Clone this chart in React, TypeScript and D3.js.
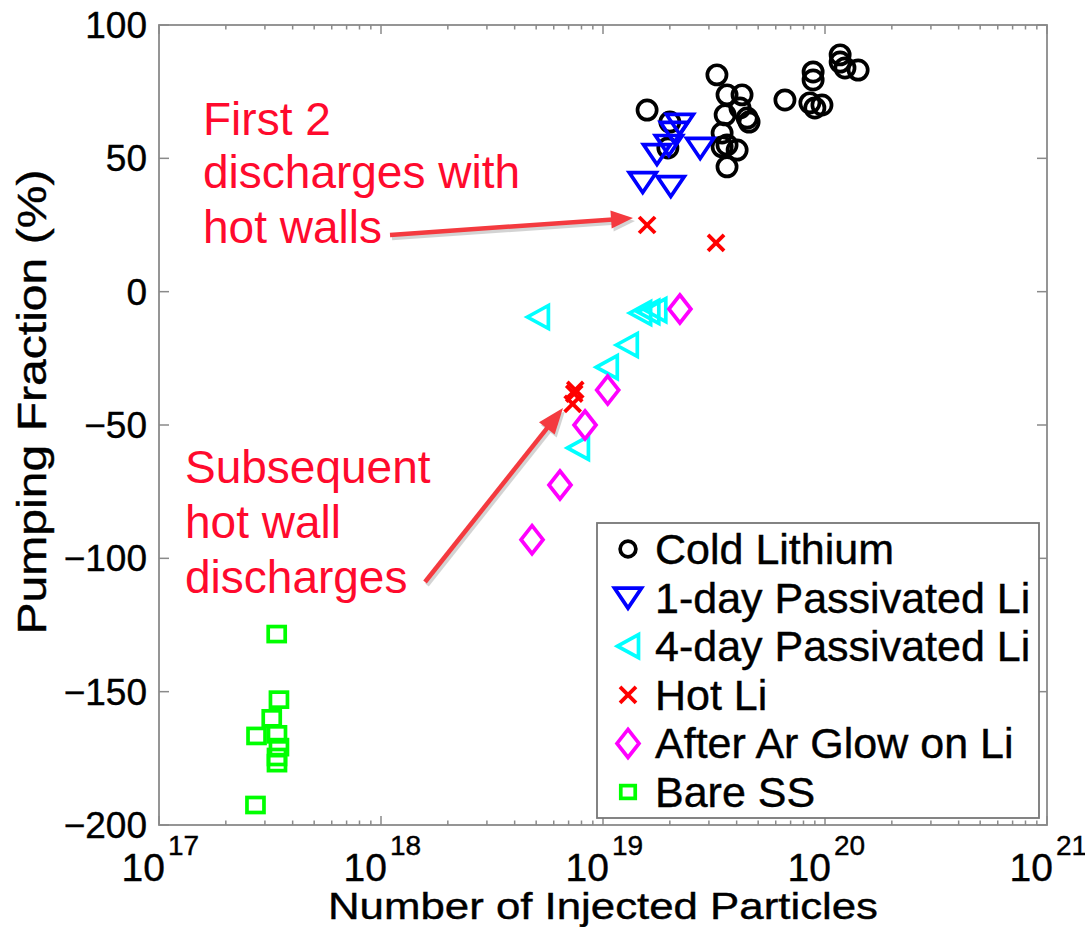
import React from "react";
import * as d3 from "d3";

// ---- Data ----
const coldX = [3.26e19, 3.62e19, 4.23e19, 4.14e19, 3.55e19, 4.46e19, 4.55e19, 3.44e19, 3.44e19, 3.62e19, 4.02e19, 3.62e19, 1.58e19, 2.0e19, 1.96e19, 6.6e19, 8.84e19, 8.84e19, 8.55e19, 9.0e19, 9.69e19, 1.17e20, 1.17e20, 1.23e20, 1.41e20];
const coldY = [81.3, 73.8, 73.8, 68.9, 66.3, 65.1, 63.6, 59.5, 54.3, 55, 53.1, 46.8, 68.1, 63.6, 53.9, 71.9, 82.4, 79.4, 70.8, 68.9, 70, 88.8, 86.1, 83.9, 83.1];

const oneDayX = [2.22e19, 2.09e19, 1.98e19, 2.74e19, 1.75e19, 1.51e19, 2.02e19];
const oneDayY = [62.9, 59.9, 55, 53.9, 51.6, 41.1, 39.6];

const fourDayX = [5.09e18, 1.47e19, 1.6e19, 1.72e19, 1.28e19, 1.04e19, 7.71e18];
const fourDayY = [-9.5, -8, -7.6, -6.9, -20, -28.3, -58.6];

const hotX = [1.58e19, 3.23e19, 7.5e18, 7.42e18, 7.3e18];
const hotY = [25, 18.3, -36.8, -38.2, -42.1];

const arX = [2.22e19, 1.05e19, 8.3e18, 6.4e18, 4.79e18];
const arY = [-6.5, -36.9, -50, -72.5, -93];

const ssX = [3.39e17, 3.47e17, 3.22e17, 2.75e17, 3.4e17, 3.47e17, 3.4e17, 3.4e17, 2.72e17];
const ssY = [-128.4, -153, -160, -166.6, -166, -170.8, -174.5, -176.8, -192.5];

const yTicks = [100, 50, 0, -50, -100, -150, -200];
const xDecades = [17, 18, 19, 20, 21];
const legendLabels = ["Cold Lithium", "1-day Passivated Li", "4-day Passivated Li", "Hot Li", "After Ar Glow on Li", "Bare SS"];

const xLabel = "Number of Injected Particles";
const yLabel = "Pumping Fraction (%)";

// ---- Layout ----
const W = 1085, H = 927;
const L = 159, R = 1047, T = 25, B = 825;
const FONT = "'Liberation Sans', Arial, Helvetica, sans-serif";

const x = d3.scaleLog().domain([1e17, 1e21]).range([L, R]);
const y = d3.scaleLinear().domain([-200, 100]).range([B, T]);

type Kind = "circle" | "tdown" | "tleft" | "x" | "diamond" | "square";

const Marker: React.FC<{ kind: Kind; cx: number; cy: number; color: string; s?: number }> = ({ kind, cx, cy, color, s = 1 }) => {
  const sw = 3.7;
  const common = { fill: "none", stroke: color, strokeWidth: sw, strokeLinejoin: "miter" as const };
  switch (kind) {
    case "circle":
      return <circle cx={cx} cy={cy} r={9.6 * s} {...common} />;
    case "tdown":
      return <path d={`M${cx - 13.5 * s},${cy - 9.5 * s}L${cx + 13.5 * s},${cy - 9.5 * s}L${cx},${cy + 10.5 * s}Z`} {...common} />;
    case "tleft":
      return <path d={`M${cx - 10.5 * s},${cy}L${cx + 10.5 * s},${cy - 11.5 * s}L${cx + 10.5 * s},${cy + 11.5 * s}Z`} {...common} />;
    case "diamond":
      return <path d={`M${cx},${cy - 14 * s}L${cx + 11 * s},${cy}L${cx},${cy + 14 * s}L${cx - 11 * s},${cy}Z`} {...common} />;
    case "square":
      return <rect x={cx - 8.5 * s} y={cy - 7.5 * s} width={17 * s} height={15 * s} {...common} />;
    case "x":
      return (
        <g stroke={color} strokeWidth={3.8} strokeLinecap="butt">
          <line x1={cx - 8 * s} y1={cy - 8 * s} x2={cx + 8 * s} y2={cy + 8 * s} />
          <line x1={cx - 8 * s} y1={cy + 8 * s} x2={cx + 8 * s} y2={cy - 8 * s} />
        </g>
      );
  }
  return null;
};

const series: { xs: number[]; ys: number[]; kind: Kind; color: string }[] = [
  { xs: coldX, ys: coldY, kind: "circle", color: "#000000" },
  { xs: oneDayX, ys: oneDayY, kind: "tdown", color: "#0000ff" },
  { xs: fourDayX, ys: fourDayY, kind: "tleft", color: "#00ffff" },
  { xs: hotX, ys: hotY, kind: "x", color: "#ff0000" },
  { xs: arX, ys: arY, kind: "diamond", color: "#ff00ff" },
  { xs: ssX, ys: ssY, kind: "square", color: "#00ff00" },
];

const Arrow: React.FC<{ x1: number; y1: number; x2: number; y2: number; head: number; hw: number }> = ({ x1, y1, x2, y2, head, hw }) => {
  const dx = x2 - x1, dy = y2 - y1;
  const len = Math.hypot(dx, dy);
  const ux = dx / len, uy = dy / len;
  const bx = x2 - ux * head, by = y2 - uy * head;
  const px = -uy, py = ux;
  const headPath = `M${x2},${y2}L${bx + px * hw},${by + py * hw}L${bx - px * hw},${by - py * hw}Z`;
  const col = "#f43a3f";
  return (
    <g>
      <g opacity={0.25} transform="translate(2,3)">
        <line x1={x1} y1={y1} x2={bx + ux * 2} y2={by + uy * 2} stroke="#555" strokeWidth={4.5} />
        <path d={headPath} fill="#555" />
      </g>
      <line x1={x1} y1={y1} x2={bx + ux * 2} y2={by + uy * 2} stroke={col} strokeWidth={4.5} />
      <path d={headPath} fill={col} />
    </g>
  );
};

export default function App() {
  const minor: number[] = [];
  for (let d = 17; d < 21; d++) for (let k = 2; k <= 9; k++) minor.push(k * Math.pow(10, d));
  const axisCol = "#8a8a8a";
  const legX = 597, legY = 523, legW = 442, legH = 295;
  const legRow0 = 549, legStep = 48.6;
  const kinds: Kind[] = ["circle", "tdown", "tleft", "x", "diamond", "square"];
  const colors = ["#000000", "#0000ff", "#00ffff", "#ff0000", "#ff00ff", "#00ff00"];
  const legScale = [0.82, 1, 1, 1, 1, 0.85];
  const red = "#ff0a2d";

  return (
    <svg width={W} height={H} style={{ position: "absolute", left: 0, top: 0, background: "#fff" }} fontFamily={FONT}>
      <rect x={0} y={0} width={W} height={H} fill="#fff" />

      {/* axes box */}
      <rect x={L} y={T} width={R - L} height={B - T} fill="none" stroke={axisCol} strokeWidth={1.8} />

      {/* x ticks */}
      {minor.map((v, i) => (
        <g key={"mn" + i} stroke={axisCol} strokeWidth={1.5}>
          <line x1={x(v)} x2={x(v)} y1={B} y2={B - 4.5} />
          <line x1={x(v)} x2={x(v)} y1={T} y2={T + 4.5} />
        </g>
      ))}
      {xDecades.map((d) => (
        <g key={"mj" + d} stroke={axisCol} strokeWidth={1.5}>
          <line x1={x(Math.pow(10, d))} x2={x(Math.pow(10, d))} y1={B} y2={B - 9} />
          <line x1={x(Math.pow(10, d))} x2={x(Math.pow(10, d))} y1={T} y2={T + 9} />
        </g>
      ))}
      {/* y ticks */}
      {yTicks.map((v) => (
        <g key={"yt" + v} stroke={axisCol} strokeWidth={1.5}>
          <line x1={L} x2={L + 10} y1={y(v)} y2={y(v)} />
          <line x1={R} x2={R - 10} y1={y(v)} y2={y(v)} />
        </g>
      ))}

      {/* y tick labels */}
      {yTicks.map((v) => (
        <text key={"yl" + v} x={147} y={y(v) + 13} fontSize={37} textAnchor="end" fill="#000" stroke="#000" strokeWidth={0.4}>
          {v < 0 ? "\u2212" + Math.abs(v) : String(v)}
        </text>
      ))}
      {/* x tick labels */}
      {xDecades.map((d) => {
        const px = x(Math.pow(10, d));
        return (
          <g key={"xl" + d} fill="#000" stroke="#000" strokeWidth={0.4}>
            <text x={px + 6} y={881} fontSize={39} textAnchor="end">10</text>
            <text x={px + 9} y={855} fontSize={28}>{d}</text>
          </g>
        );
      })}

      {/* axis labels */}
      <text x={603} y={919} fontSize={37} textAnchor="middle" textLength={550} lengthAdjust="spacingAndGlyphs" fill="#000" stroke="#000" strokeWidth={0.4}>{xLabel}</text>
      <text transform={`translate(46,402) rotate(-90)`} fontSize={41} textAnchor="middle" textLength={465} lengthAdjust="spacingAndGlyphs" fill="#000" stroke="#000" strokeWidth={0.4}>{yLabel}</text>

      {/* data */}
      {series.map((s, si) => (
        <g key={"s" + si}>
          {s.xs.map((xv, i) => (
            <Marker key={i} kind={s.kind} cx={x(xv)} cy={y(s.ys[i])} color={s.color} />
          ))}
        </g>
      ))}

      {/* legend */}
      <rect x={legX} y={legY} width={legW} height={legH} fill="#fff" stroke="#777" strokeWidth={1.8} />
      {legendLabels.map((lab, i) => {
        const cy = legRow0 + i * legStep;
        return (
          <g key={"lg" + i}>
            <Marker kind={kinds[i]} cx={628} cy={cy} color={colors[i]} s={legScale[i]} />
            <text x={655} y={cy + 15} fontSize={43} fill="#000" stroke="#000" strokeWidth={0.4}>{lab}</text>
          </g>
        );
      })}

      {/* annotations */}
      <g fill={red} fontSize={46}>
        <text x={203} y={135}>First 2</text>
        <text x={203} y={188}>discharges with</text>
        <text x={203} y={243}>hot walls</text>
        <text x={185} y={483}>Subsequent</text>
        <text x={185} y={538}>hot wall</text>
        <text x={185} y={593}>discharges</text>
      </g>
      <Arrow x1={390} y1={235} x2={633} y2={218} head={22} hw={9} />
      <Arrow x1={425} y1={582} x2={563} y2={408} head={26} hw={10} />
    </svg>
  );
}
